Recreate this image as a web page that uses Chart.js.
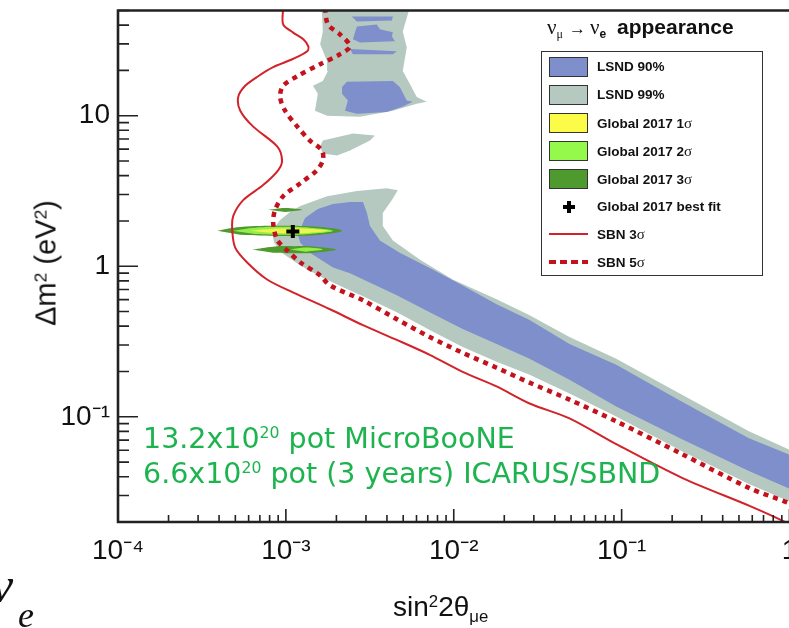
<!DOCTYPE html>
<html lang="en">
<head>
  <meta charset="UTF-8" />
  <title>SBN - numu to nue appearance</title>
  <script src="https://cdn.jsdelivr.net/npm/chart.js"></script>
  <style>
    html, body { margin: 0; padding: 0; background: #fff; overflow: hidden; }
    .page { position: relative; width: 789px; height: 628px; overflow: hidden; }
    #sbnChart { position: absolute; left: 0; top: 0; }

    .legend-title { position: absolute; left: 547px; top: 15px; font: bold 21px/21px 'Liberation Sans', Arial, sans-serif; color: #111; white-space: nowrap; }
    .legend-title .gk { font: 21px 'Liberation Serif', serif; }
    .legend-title .arrow { font: 17px 'Liberation Serif', serif; margin: 0 4px 0 6px; }
    .legend-title sub { font-size: 12px; line-height: 0; vertical-align: -4px; }
    .legend-title .mu { font-family: 'Liberation Serif', serif; font-weight: normal; }
    .legend-title .e { font-family: 'Liberation Sans', Arial, sans-serif; font-weight: bold; margin-right: 5px; }

    .legend { position: absolute; left: 541px; top: 51px; width: 222px; height: 225px; box-sizing: border-box; border: 1.5px solid #333; background: #fff; }
    .row { position: absolute; left: 0; width: 100%; height: 20px; }
    .swatch { position: absolute; left: 7px; top: 0; width: 39px; height: 20px; box-sizing: border-box; border: 1.5px solid #333; }
    .line-sample { position: absolute; left: 7px; top: 9px; width: 39px; height: 2px; }
    .dot-sample { position: absolute; left: 7px; top: 8px; width: 39px; height: 4px; }
    .cross-h { position: absolute; left: 21px; top: 8px; width: 12px; height: 4px; background: #000; }
    .cross-v { position: absolute; left: 25px; top: 4px; width: 4px; height: 12px; background: #000; }
    .row-text { position: absolute; left: 55px; top: 0; font: bold 13.5px/20px 'Liberation Sans', Arial, sans-serif; color: #111; white-space: nowrap; }
    .sym { font-family: 'Liberation Serif', serif; font-weight: normal; font-size: 15px; }

    .note { position: absolute; left: 143px; top: 421px; font: 28.5px/35px 'Comic Sans MS', 'DejaVu Sans', sans-serif; color: #1db34f; white-space: nowrap; }
    .note sup { font-size: 55%; line-height: 0; vertical-align: 10px; }

    .ytitle { position: absolute; left: 46px; top: 263px; transform: translate(-50%, -50%) rotate(-90deg); font: 29px/29px 'Liberation Sans', Arial, sans-serif; color: #111; white-space: nowrap; }
    .xtitle { position: absolute; left: 393px; top: 593px; font: 28px/28px 'Liberation Sans', Arial, sans-serif; color: #111; white-space: nowrap; }
    .ytitle sup, .xtitle sup { font-size: 60%; line-height: 0; vertical-align: 9px; }
    .xtitle sub { font-size: 60%; line-height: 0; vertical-align: -6px; }

    .frag-nu { position: absolute; left: -9px; top: 560px; font: italic 50px/50px 'Liberation Serif', serif; color: #111; }
    .frag-e { position: absolute; left: 18px; top: 597px; font: italic 36px/36px 'Liberation Serif', serif; color: #111; }
  </style>
</head>
<body>
<div class="page">
  <canvas id="sbnChart" width="800" height="628"></canvas>

  <div class="legend-title"><span class="gk">ν</span><sub class="mu">μ</sub><span class="arrow">→</span><span class="gk">ν</span><sub class="e">e</sub> appearance</div>
  <div class="legend" id="legend"></div>

  <div class="note">13.2x10<sup>20</sup> pot MicroBooNE<br>6.6x10<sup>20</sup> pot (3 years) ICARUS/SBND</div>
  <div class="ytitle">Δm<sup>2</sup> (eV<sup>2</sup>)</div>
  <div class="xtitle">sin<sup>2</sup>2θ<sub>μe</sub></div>
  <span class="frag-nu">ν</span><span class="frag-e">e</span>
</div>

<script>
  // axes (log-log)
  const xMin = 1e-4, xMax = 1;
  const yMin = 0.02, yMax = 50;
  const xMajor = [1e-4, 1e-3, 1e-2, 1e-1, 1];
  const xLabels = ['10⁻⁴', '10⁻³', '10⁻²', '10⁻¹', '1'];
  const yMajor = [0.1, 1, 10];
  const yLabels = ['10⁻¹', '1', '10'];

  // SBN sensitivity curves [sin^2 2theta, dm^2]
  const sbn3sigma = [
    [9.63e-4, 52], [9.63e-4, 40.4], [1.10e-3, 35.8], [1.27e-3, 32.2], [1.36e-3, 28.9], [1.34e-3, 26.8],
    [1.10e-3, 23.8], [8.40e-4, 21.0], [6.84e-4, 18.3], [5.72e-4, 15.8], [5.20e-4, 13.3], [5.35e-4, 10.8],
    [6.39e-4, 8.46], [8.87e-4, 6.25], [9.49e-4, 5.05], [8.99e-4, 4.34], [7.32e-4, 3.46], [5.57e-4, 2.75],
    [4.86e-4, 2.16], [4.79e-4, 1.75], [4.99e-4, 1.33], [5.88e-4, 1.06], [7.73e-4, 0.817], [1.10e-3, 0.671],
    [1.83e-3, 0.518], [2.88e-3, 0.406], [4.58e-3, 0.324], [7.19e-3, 0.258], [1.13e-2, 0.199], [1.80e-2, 0.159],
    [2.83e-2, 0.1225], [4.89e-2, 0.0976], [9.29e-2, 0.0658], [0.229, 0.0393], [0.573, 0.0257], [0.830, 0.0214],
    [1.14, 0.0181]
  ];
  const sbn5sigma = [
    [1.71e-3, 52], [1.78e-3, 40.4], [2.10e-3, 34.7], [2.41e-3, 28.9], [2.10e-3, 25.6], [1.60e-3, 22.0],
    [1.17e-3, 18.3], [9.63e-4, 15.8], [9.24e-4, 13.3], [9.89e-4, 10.8], [1.17e-3, 8.46], [1.39e-3, 6.84],
    [1.64e-3, 5.88], [1.66e-3, 5.05], [1.53e-3, 4.34], [1.22e-3, 3.56], [9.63e-4, 2.92], [8.63e-4, 2.37],
    [8.40e-4, 1.94], [8.87e-4, 1.50], [1.02e-3, 1.27], [1.22e-3, 1.06], [1.60e-3, 0.868], [1.83e-3, 0.746],
    [2.88e-3, 0.594], [4.58e-3, 0.445], [7.19e-3, 0.339], [1.13e-2, 0.266], [1.80e-2, 0.2117], [2.83e-2, 0.1685],
    [4.89e-2, 0.130], [9.29e-2, 0.0932], [0.229, 0.0565], [0.573, 0.0337], [0.978, 0.0269], [1.14, 0.0249]
  ];

  // LSND allowed regions (outlines)
  const lsnd99Band = [
    [8.28e-4, 1.72], [9.24e-4, 2.03], [1.06e-3, 2.29], [1.22e-3, 2.51], [1.76e-3, 2.92], [2.65e-3, 3.16],
    [3.99e-3, 3.30], [4.64e-3, 3.20], [4.28e-3, 2.75], [3.78e-3, 2.26], [3.78e-3, 1.85], [4.34e-3, 1.48],
    [6.27e-3, 1.11], [9.85e-3, 0.817], [1.80e-2, 0.603], [2.83e-2, 0.473], [4.89e-2, 0.339], [9.29e-2, 0.243],
    [0.229, 0.140], [0.573, 0.0801], [0.978, 0.0610], [1.14, 0.0557],
    [1.14, 0.0257], [0.978, 0.0277], [0.573, 0.0358], [0.229, 0.0591], [9.29e-2, 0.1006], [4.89e-2, 0.1426],
    [2.83e-2, 0.190], [1.80e-2, 0.232], [1.13e-2, 0.291], [7.19e-3, 0.377], [4.58e-3, 0.495], [2.88e-3, 0.631],
    [2.19e-3, 0.724], [1.60e-3, 0.855], [1.22e-3, 1.01], [9.63e-4, 1.21], [8.51e-4, 1.43]
  ];
  const lsnd99Column = [
    [1.55e-3, 52], [5.47e-3, 52], [5.32e-3, 47.0], [4.97e-3, 36.3], [5.25e-3, 28.5], [4.97e-3, 19.8],
    [5.47e-3, 16.3], [6.02e-3, 13.3], [6.90e-3, 12.4], [6.02e-3, 12.0], [4.34e-3, 10.8], [2.76e-3, 9.85],
    [1.76e-3, 10.0], [1.49e-3, 10.8], [1.55e-3, 14.0], [1.45e-3, 15.8], [1.66e-3, 17.0], [1.78e-3, 19.8],
    [1.76e-3, 23.0], [1.60e-3, 29.8], [1.66e-3, 36.3], [1.64e-3, 48.5]
  ];
  const lsnd99Island = [
    [1.66e-3, 6.84], [2.51e-3, 7.61], [3.39e-3, 7.38], [3.17e-3, 6.84], [2.41e-3, 5.88], [2.02e-3, 5.45],
    [1.66e-3, 5.62], [1.60e-3, 6.25]
  ];
  const lsnd90Band = [
    [1.18e-3, 1.62], [1.30e-3, 2.09], [1.55e-3, 2.40], [1.91e-3, 2.59], [2.41e-3, 2.67], [2.88e-3, 2.67],
    [3.04e-3, 2.26], [3.17e-3, 1.85], [3.63e-3, 1.48], [4.77e-3, 1.23], [7.49e-3, 0.951], [1.13e-2, 0.746],
    [1.80e-2, 0.559], [2.83e-2, 0.439], [4.89e-2, 0.305], [9.29e-2, 0.2215], [0.229, 0.126], [0.573, 0.0720],
    [0.978, 0.0565], [1.14, 0.0516],
    [1.14, 0.0313], [0.978, 0.0337], [0.573, 0.0437], [0.229, 0.0710], [9.29e-2, 0.117], [4.89e-2, 0.1764],
    [2.83e-2, 0.243], [1.80e-2, 0.305], [1.13e-2, 0.3825], [7.19e-3, 0.495], [4.58e-3, 0.641], [2.41e-3, 0.90],
    [1.91e-3, 0.98], [1.39e-3, 1.23], [1.22e-3, 1.43]
  ];
  const lsnd90Strip1 = [[2.47e-3, 45.6], [4.34e-3, 45.6], [4.28e-3, 42.9], [2.65e-3, 42.3]];
  const lsnd90Strip2 = [
    [2.65e-3, 39.2], [3.48e-3, 40.4], [3.63e-3, 37.5], [4.34e-3, 35.8], [4.28e-3, 33.7], [4.46e-3, 31.2],
    [2.76e-3, 30.7], [2.51e-3, 32.2], [2.58e-3, 35.8]
  ];
  const lsnd90Strip3 = [[2.41e-3, 27.7], [4.58e-3, 26.8], [4.34e-3, 25.6], [2.51e-3, 25.6]];
  const lsnd90Patch = [
    [2.31e-3, 16.8], [4.34e-3, 17.0], [4.77e-3, 15.5], [5.25e-3, 12.6], [5.70e-3, 12.4], [4.97e-3, 11.5],
    [3.99e-3, 10.6], [2.65e-3, 10.3], [2.25e-3, 10.8], [2.34e-3, 12.6], [2.16e-3, 14.0], [2.16e-3, 15.5]
  ];

  // Global 2017 fit regions
  const global3Main = [[3.90e-4, 1.72], [5.35e-4, 1.82], [9.24e-4, 1.855], [1.60e-3, 1.82], [2.16e-3, 1.72], [1.60e-3, 1.62], [9.24e-4, 1.59], [5.35e-4, 1.62]];
  const global3Top = [[7.84e-4, 2.37], [9.89e-4, 2.44], [1.25e-3, 2.37], [9.89e-4, 2.29]];
  const global3Low = [[6.30e-4, 1.29], [8.40e-4, 1.35], [1.12e-3, 1.36], [1.49e-3, 1.35], [1.99e-3, 1.29], [1.49e-3, 1.23], [1.12e-3, 1.22], [8.40e-4, 1.23]];
  const global2Main = [[4.79e-4, 1.72], [6.56e-4, 1.805], [9.63e-4, 1.83], [1.39e-3, 1.805], [1.91e-3, 1.72], [1.39e-3, 1.64], [9.63e-4, 1.62], [6.56e-4, 1.64]];
  const global2Low = [[1.06e-3, 1.29], [1.32e-3, 1.33], [1.66e-3, 1.29], [1.32e-3, 1.25]];
  const global1Main = [[6.13e-4, 1.72], [8.06e-4, 1.77], [1.06e-3, 1.78], [1.39e-3, 1.77], [1.78e-3, 1.72], [1.39e-3, 1.67], [1.06e-3, 1.655], [8.06e-4, 1.67]];
  const bestFit = [[1.10e-3, 1.70]];

  const lsnd90Color = '#7e8fcb';
  const lsnd99Color = '#b5c9c1';
  const global1Color = '#f2f34c';
  const global2Color = '#94ee4a';
  const global3Color = '#4e9a2e';
  const sbnColor = '#d2232a';
  const sbn5Color = '#c3121c';
  const axisColor = '#222';

  const pts = arr => arr.map(p => ({ x: p[0], y: p[1] }));

  function region(data, color, order, tension) {
    return {
      data: pts(data), showLine: true, fill: 'shape', backgroundColor: color, borderColor: color,
      borderWidth: 0, pointRadius: 0, tension: tension || 0, order: order
    };
  }

  const datasets = [
    region(lsnd99Band, lsnd99Color, 90),
    region(lsnd99Column, lsnd99Color, 90),
    region(lsnd99Island, lsnd99Color, 90),
    region(lsnd90Band, lsnd90Color, 80),
    region(lsnd90Strip1, lsnd90Color, 80),
    region(lsnd90Strip2, lsnd90Color, 80),
    region(lsnd90Strip3, lsnd90Color, 80),
    region(lsnd90Patch, lsnd90Color, 80),
    region(global3Main, global3Color, 70, 0.4),
    region(global3Top, global3Color, 70, 0.4),
    region(global3Low, global3Color, 70, 0.4),
    region(global2Main, global2Color, 60, 0.4),
    region(global2Low, global2Color, 60, 0.4),
    region(global1Main, global1Color, 50, 0.4),
    {
      data: pts(sbn5sigma), showLine: true, fill: false, borderColor: sbn5Color, borderWidth: 4.5,
      borderDash: [5, 5], borderCapStyle: 'butt', pointRadius: 0, tension: 0.3, order: 20
    },
    {
      data: pts(sbn3sigma), showLine: true, fill: false, borderColor: sbnColor, borderWidth: 2,
      pointRadius: 0, tension: 0.3, order: 10
    },
    {
      data: pts(bestFit), showLine: false, pointStyle: 'cross', pointRadius: 6.5,
      pointBorderWidth: 4, pointBorderColor: '#000', borderColor: '#000', order: 1
    }
  ];

  // tick marks at 1..9 x 10^n, only powers of ten get a label
  function logTicks(min, max) {
    const list = [];
    for (let e = Math.floor(Math.log10(min)); e <= Math.ceil(Math.log10(max)); e++) {
      for (let k = 1; k <= 9; k++) {
        const v = k * Math.pow(10, e);
        if (v >= min * 0.999 && v <= max * 1.001) list.push({ value: v, big: k === 1 });
      }
    }
    return list;
  }
  function labelFor(majors, labels) {
    return function (value) {
      for (let i = 0; i < majors.length; i++) {
        if (Math.abs(Math.log10(value / majors[i])) < 1e-6) return labels[i];
      }
      return '';
    };
  }

  const frame = {
    id: 'frame',
    afterDatasetsDraw(chart) {
      const { ctx, chartArea: area, scales } = chart;
      const x = scales.x, y = scales.y;
      ctx.save();
      ctx.strokeStyle = axisColor;
      ctx.lineWidth = 1.6;
      ctx.beginPath();
      x.ticks.forEach(t => {
        const px = x.getPixelForValue(t.value);
        ctx.moveTo(px, area.bottom);
        ctx.lineTo(px, area.bottom - (t.big ? 13 : 7));
      });
      y.ticks.forEach(t => {
        const py = y.getPixelForValue(t.value);
        ctx.moveTo(area.left, py);
        ctx.lineTo(area.left + (t.big ? 20 : 11), py);
      });
      ctx.stroke();
      ctx.lineWidth = 2.6;
      ctx.beginPath();
      ctx.moveTo(chart.width, area.top);
      ctx.lineTo(area.left, area.top);
      ctx.lineTo(area.left, area.bottom);
      ctx.lineTo(chart.width, area.bottom);
      ctx.stroke();
      ctx.restore();
    }
  };

  Chart.defaults.font.family = "'Liberation Sans', Arial, sans-serif";

  new Chart(document.getElementById('sbnChart'), {
    type: 'scatter',
    data: { datasets: datasets },
    options: {
      responsive: false,
      animation: false,
      events: [],
      layout: { padding: { top: 7, right: 9, left: 0, bottom: 0 } },
      plugins: { legend: { display: false }, tooltip: { enabled: false } },
      scales: {
        x: {
          type: 'logarithmic', min: xMin, max: xMax,
          grid: { display: false, drawTicks: false },
          border: { display: false },
          afterBuildTicks: s => { s.ticks = logTicks(xMin, xMax); },
          afterFit: s => { s.height = 106; s.paddingLeft = 0; s.paddingRight = 0; },
          ticks: {
            autoSkip: false, maxRotation: 0, minRotation: 0, padding: 12,
            color: '#111', font: { size: 28 }, callback: labelFor(xMajor, xLabels)
          }
        },
        y: {
          type: 'logarithmic', min: yMin, max: yMax,
          grid: { display: false, drawTicks: false },
          border: { display: false },
          afterBuildTicks: s => { s.ticks = logTicks(yMin, yMax); },
          afterFit: s => { s.width = 118; s.paddingTop = 0; s.paddingBottom = 0; },
          ticks: {
            autoSkip: false, padding: 8,
            color: '#111', font: { size: 28 }, callback: labelFor(yMajor, yLabels)
          }
        }
      }
    },
    plugins: [frame]
  });

  // legend
  const legendItems = [
    { label: 'LSND 90%', kind: 'box', color: lsnd90Color },
    { label: 'LSND 99%', kind: 'box', color: lsnd99Color },
    { label: 'Global 2017 1σ', kind: 'box', color: '#fbfb48' },
    { label: 'Global 2017 2σ', kind: 'box', color: '#95f94b' },
    { label: 'Global 2017 3σ', kind: 'box', color: global3Color },
    { label: 'Global 2017 best fit', kind: 'cross', color: '#000' },
    { label: 'SBN 3σ', kind: 'line', color: sbnColor },
    { label: 'SBN 5σ', kind: 'dots', color: sbn5Color }
  ];
  const legendBox = document.getElementById('legend');
  legendItems.forEach((item, i) => {
    const row = document.createElement('div');
    row.className = 'row';
    row.style.top = (5 + i * 27.9) + 'px';
    let mark = '';
    if (item.kind === 'box') mark = '<div class="swatch" style="background:' + item.color + '"></div>';
    if (item.kind === 'cross') mark = '<div class="cross-h"></div><div class="cross-v"></div>';
    if (item.kind === 'line') mark = '<div class="line-sample" style="background:' + item.color + '"></div>';
    if (item.kind === 'dots') mark = '<div class="dot-sample" style="background:repeating-linear-gradient(90deg,' + item.color + ' 0 7px, transparent 7px 11px)"></div>';
    row.innerHTML = mark + '<div class="row-text">' + item.label.replace('σ', '<span class="sym">σ</span>') + '</div>';
    legendBox.appendChild(row);
  });
</script>
</body>
</html>
